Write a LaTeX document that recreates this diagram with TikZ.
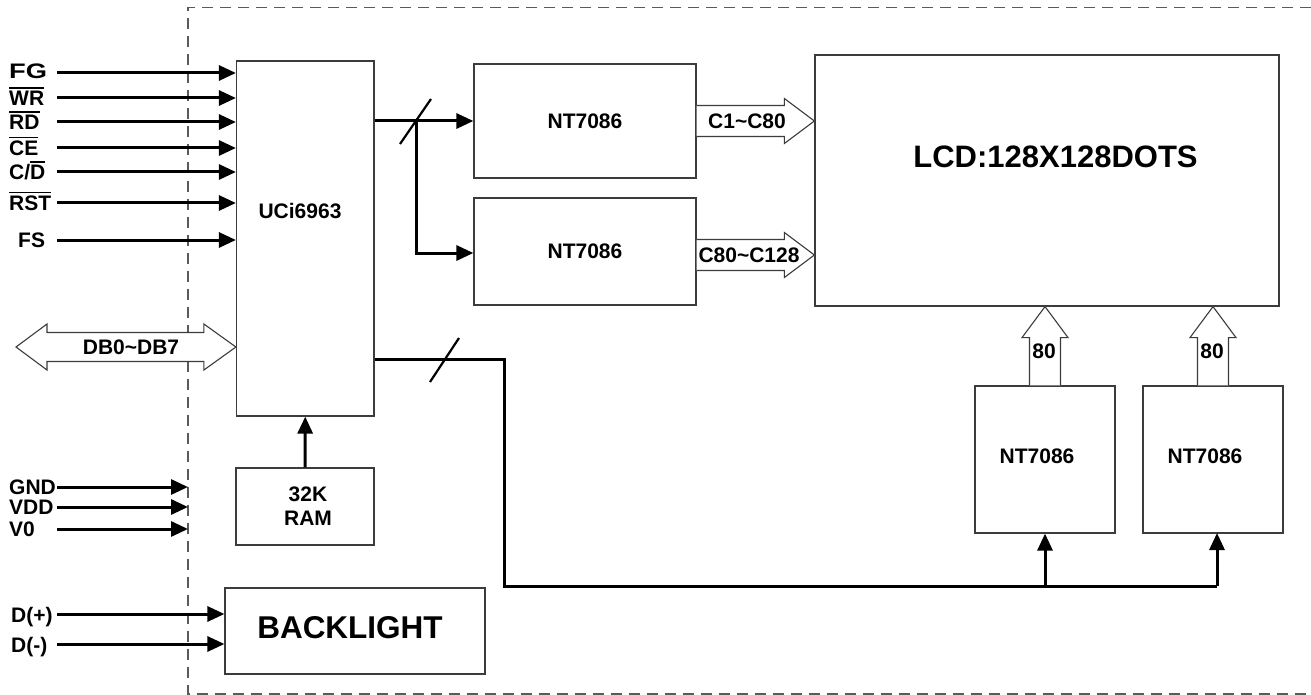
\documentclass[tikz,border=0pt]{standalone}
\usepackage{fontspec}
\setmainfont{Liberation Sans}
\usetikzlibrary{arrows.meta,calc}
\definecolor{boxgray}{RGB}{60,60,60}
\definecolor{dashgray}{RGB}{90,90,90}
\newcommand\ovl[1]{\leavevmode\vbox{\hrule height 1.6pt\kern 2.5pt\hbox{#1}}}
\begin{document}
\begin{tikzpicture}[x=1pt,y=-1pt,
  box/.style={draw=boxgray,line width=1.2pt,inner sep=0pt,align=center,
    font=\bfseries\fontsize{21}{24}\selectfont},
  conn/.style={line width=3pt,-{Triangle[length=17pt,width=15pt]}},
  wire/.style={line width=3pt},
  slash/.style={line width=2.2pt},
  hollow/.style={draw=boxgray,line width=1.1pt,fill=white,line join=miter},
  lbl/.style={inner sep=0pt,text height=15pt,text depth=0pt,
    font=\bfseries\fontsize{21}{24}\selectfont},
  border/.style={draw=dashgray,line width=1.3pt,dash pattern=on 11pt off 7pt},
]
\useasboundingbox (0,0) rectangle (1311,695);
\fill[white] (0,0) rectangle (1311,695);

% dashed module border
\draw[border] (1311,7.5) -- (188,7.5) -- (188,694) -- (1311,694);

% boxes
\node[box,minimum width=137.5pt,minimum height=355pt] (uci) at (305.25,238.5) {};
\node[lbl,anchor=center] (ucit) at (300,211) {UCi6963};
\node[box,minimum width=138pt,minimum height=77pt] (ram) at (305,506.5) {\hspace*{6pt}32K\\\hspace*{6pt}RAM};
\node[box,minimum width=260pt,minimum height=86pt] (bl) at (355,631) {};
\node[lbl,anchor=center,text height=22.5pt,font=\bfseries\fontsize{31.5}{36}\selectfont] (blt) at (350,627) {BACKLIGHT};
\node[box,minimum width=222pt,minimum height=114pt] (nt1) at (585,121) {NT7086};
\node[box,minimum width=222pt,minimum height=107pt] (nt2) at (585,251.5) {\raisebox{-3pt}{NT7086}};
\node[box,minimum width=464pt,minimum height=251pt] (lcd) at (1047,180.5) {};
\node[lbl,anchor=center,text height=22pt,font=\bfseries\fontsize{31}{36}\selectfont] (lcdt) at (1055.5,156.5) {LCD:128X128DOTS};
\node[box,minimum width=140pt,minimum height=147pt] (nt3) at (1045,459.5) {\raisebox{6pt}{NT7086}\hspace*{16pt}};
\node[box,minimum width=140pt,minimum height=147pt] (nt4) at (1213,459.5) {\raisebox{6pt}{NT7086}\hspace*{16pt}};

% control inputs
\foreach \nm/\yy/\tx/\lx/\ly in {fg/73/{\scalebox{1.3}[1]{FG}}/9/71,wr/98/{\ovl{WR}}/9/98,rd/122/{\ovl{RD}}/9/122,ce/148/{\ovl{CE}}/9/148,
    cd/172/{C/\ovl{D}}/9/172,rst/203/{\ovl{RST}}/9/203,fs/240/FS/18/240}{
  \node[lbl,anchor=west] (\nm l) at (\lx,\ly) {\tx};
  \coordinate (\nm s) at (57,\yy);
  \draw[conn] (\nm s) -- (\nm s -| uci.west);
}

% power inputs
\foreach \nm/\yy/\tx in {gnd/487/GND,vdd/507/VDD,vo/529/V0}{
  \node[lbl,anchor=west] (\nm l) at (9,\yy) {\tx};
  \coordinate (\nm s) at (57,\yy);
  \coordinate (\nm e) at (188,\yy);
  \draw[conn] (\nm s) -- (\nm e);
}

% backlight inputs
\node[lbl,anchor=west] (dpl) at (11,615) {D(+)};
\node[lbl,anchor=west] (dml) at (11,645) {D(-)};
\coordinate (dps) at (57,614);
\coordinate (dms) at (57,644);
\draw[conn] (dps) -- (dps -| bl.west);
\draw[conn] (dms) -- (dms -| bl.west);

% data bus double arrow
\coordinate (dbl) at (16,347);
\coordinate (dbr) at (dbl -| uci.west);
\draw[hollow] (dbl) -- ($(dbl)+(31,-23)$) -- ($(dbl)+(31,-14.5)$)
  -- ($(dbr)+(-32,-14.5)$) -- ($(dbr)+(-32,-23)$)
  -- (dbr) -- ($(dbr)+(-32,23)$) -- ($(dbr)+(-32,14.5)$)
  -- ($(dbl)+(31,14.5)$) -- ($(dbl)+(31,23)$) -- cycle;
\node[lbl,anchor=center] (dbt) at (131,347) {DB0\char`~DB7};

% RAM to controller
\draw[conn] (ram.north) -- (uci.south);

% bus to column drivers
\coordinate (br) at (416,121);
\draw[wire] (uci.east |- nt1.west) -- (br);
\draw[conn] (br) -- (nt1.west);
\draw[conn] (br) |- ($(nt2.west)+(0,1.5)$);
\draw[slash] ($(br)+(-16,23)$) -- ($(br)+(15,-22)$);

% bus to row drivers
\coordinate (b2a) at (504,359);
\coordinate (b2b) at (504,586);
\coordinate (b2c) at (1217,586);
\coordinate (n4in) at (1217,533);
\draw[wire] (uci.east |- b2a) -- (b2a) -- (b2b) -- (b2c);
\draw[conn] (b2b -| nt3.south) -- (nt3.south);
\draw[conn] (b2c) -- (n4in);
\draw[slash] (430,382) -- (459,338);

% column outputs
\coordinate (t1) at (lcd.west |- nt1.east);
\draw[hollow] ($(nt1.east)+(0,-15.5)$) -- ($(t1)+(-30,-15.5)$) -- ($(t1)+(-30,-22.5)$)
  -- (t1) -- ($(t1)+(-30,22.5)$) -- ($(t1)+(-30,15.5)$) -- ($(nt1.east)+(0,15.5)$);
\node[lbl,anchor=center] (c1t) at (747,121.5) {C1\char`~C80};
\coordinate (n2e) at ($(nt2.east)+(0,3.5)$);
\coordinate (t2) at (lcd.west |- n2e);
\draw[hollow] ($(n2e)+(0,-15.5)$) -- ($(t2)+(-30,-15.5)$) -- ($(t2)+(-30,-22.5)$)
  -- (t2) -- ($(t2)+(-30,22.5)$) -- ($(t2)+(-30,15.5)$) -- ($(n2e)+(0,15.5)$);
\node[lbl,anchor=center] (c2t) at (749,255) {C80\char`~C128};

% row outputs
\foreach \b in {nt3,nt4}{
  \coordinate (\b t) at (lcd.south -| \b.north);
  \draw[hollow] ($(\b.north)+(-15.5,0)$) -- ($(\b t)+(-15.5,31)$) -- ($(\b t)+(-23,31)$)
    -- (\b t) -- ($(\b t)+(23,31)$) -- ($(\b t)+(15.5,31)$) -- ($(\b.north)+(15.5,0)$);
  \node[lbl,anchor=center] (\b n) at ($(\b t)+(-1,44)$) {80};
}
\end{tikzpicture}
\end{document}
